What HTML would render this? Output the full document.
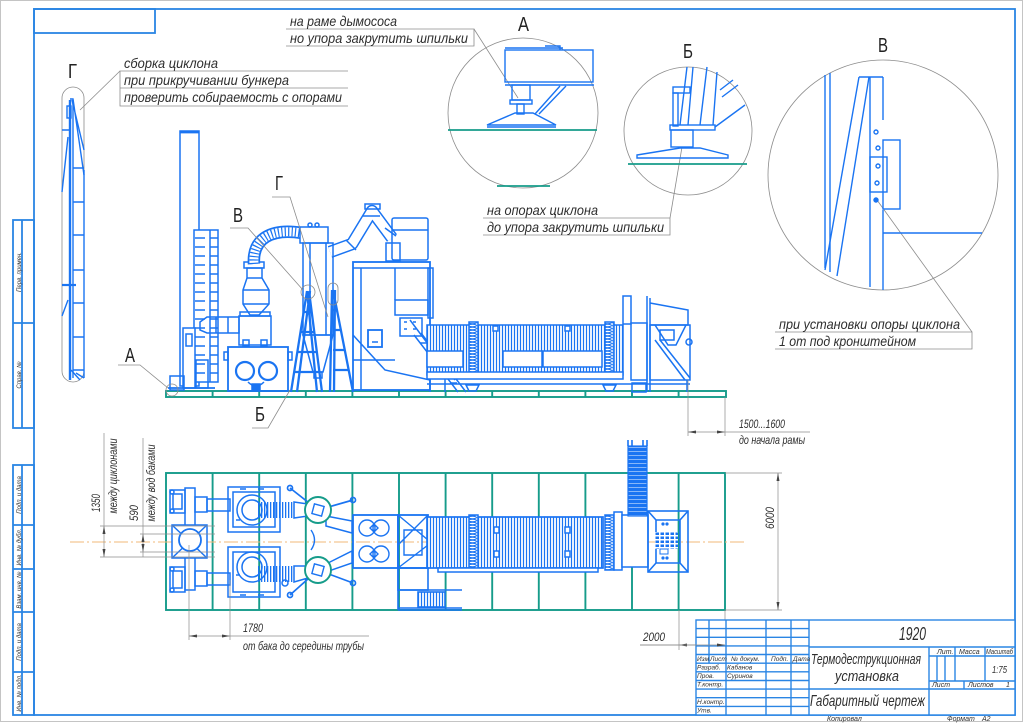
<!DOCTYPE html>
<html><head><meta charset="utf-8">
<style>
html,body{margin:0;padding:0;background:#fff;}
svg{display:block;}
.t{font-family:"Liberation Sans",sans-serif;font-style:italic;fill:#2e2e2e;}
.L{font-family:"Liberation Sans",sans-serif;fill:#222;}
</style></head><body>
<svg width="1024" height="724" viewBox="0 0 1024 724" xmlns="http://www.w3.org/2000/svg">
<defs>
<pattern id="vf" width="3" height="6" patternUnits="userSpaceOnUse"><rect width="3" height="6" fill="#fff"/><line x1="1.5" y1="0" x2="1.5" y2="6" stroke="#1a74f2" stroke-width="1.2"/></pattern>
<pattern id="hb" width="9" height="3" patternUnits="userSpaceOnUse"><rect width="9" height="3" fill="#fff"/><ellipse cx="4.5" cy="1.5" rx="4" ry="1.2" fill="none" stroke="#1a74f2" stroke-width="0.9"/></pattern>
<pattern id="hl" width="6" height="4" patternUnits="userSpaceOnUse"><rect width="6" height="4" fill="#1a74f2"/><line x1="0" y1="3.5" x2="6" y2="3.5" stroke="#cfe3ff" stroke-width="0.6"/></pattern>
<pattern id="grd" width="5" height="4" patternUnits="userSpaceOnUse"><rect width="5" height="4" fill="#fff"/><rect x="0.5" y="0.5" width="3.5" height="2.5" fill="#1a74f2"/></pattern>
</defs>

<!-- page border -->
<rect x="0.5" y="0.5" width="1022" height="721" fill="none" stroke="#c4c4c4" stroke-width="1"/>
<!-- frame -->
<g fill="none" stroke="#2a85e4" stroke-width="1.8">
<rect x="34" y="9" width="981" height="706"/>
<rect x="34" y="9" width="121" height="24"/>
<rect x="13" y="220" width="21" height="208"/>
<line x1="22" y1="220" x2="22" y2="428"/>
<line x1="13" y1="323" x2="34" y2="323"/>
<rect x="13" y="465" width="21" height="250"/>
<line x1="22" y1="465" x2="22" y2="715"/>
<line x1="13" y1="525" x2="34" y2="525"/>
<line x1="13" y1="569" x2="34" y2="569"/>
<line x1="13" y1="612" x2="34" y2="612"/>
<line x1="13" y1="672" x2="34" y2="672"/>
</g>
<g class="t" font-size="6">
<text transform="translate(21,272) rotate(-90)" text-anchor="middle">Перв. примен.</text>
<text transform="translate(21,375) rotate(-90)" text-anchor="middle">Справ. №</text>
<text transform="translate(21,495) rotate(-90)" text-anchor="middle">Подп. и дата</text>
<text transform="translate(21,547) rotate(-90)" text-anchor="middle">Инв. № дубл.</text>
<text transform="translate(21,590) rotate(-90)" text-anchor="middle">Взам. инв. №</text>
<text transform="translate(21,642) rotate(-90)" text-anchor="middle">Подп. и дата</text>
<text transform="translate(21,693) rotate(-90)" text-anchor="middle">Инв. № подл.</text>
</g>

<!-- ===== callouts top ===== -->
<g fill="none" stroke="#8c8c8c" stroke-width="0.8">
<path d="M286,29H474V46H286"/>
<line x1="474" y1="29" x2="518" y2="98"/>
<path d="M348,71H120V106H348M120,88H348"/>
<line x1="120" y1="71" x2="80" y2="110"/>
<path d="M483,218H670V235H483"/>
<line x1="670" y1="218" x2="682" y2="147"/>
<path d="M775,332H972V349H775"/>
<line x1="972" y1="332" x2="877" y2="200"/>
<circle cx="523" cy="113" r="75"/>
<circle cx="688" cy="131" r="64"/>
<circle cx="883" cy="175" r="115"/>
<rect x="62" y="87" width="22" height="295" rx="11"/>
</g>
<g class="t" font-size="14">
<text x="290" y="26" textLength="107" lengthAdjust="spacingAndGlyphs">на раме дымососа</text>
<text x="290" y="43" textLength="178" lengthAdjust="spacingAndGlyphs">но упора закрутить шпильки</text>
<text x="124" y="68" textLength="94" lengthAdjust="spacingAndGlyphs">сборка циклона</text>
<text x="124" y="85" textLength="165" lengthAdjust="spacingAndGlyphs">при прикручивании бункера</text>
<text x="124" y="102" textLength="218" lengthAdjust="spacingAndGlyphs">проверить собираемость с опорами</text>
<text x="487" y="215" textLength="111" lengthAdjust="spacingAndGlyphs">на опорах циклона</text>
<text x="487" y="232" textLength="177" lengthAdjust="spacingAndGlyphs">до упора закрутить шпильки</text>
<text x="779" y="329" textLength="181" lengthAdjust="spacingAndGlyphs">при установки опоры циклона</text>
<text x="779" y="346" textLength="137" lengthAdjust="spacingAndGlyphs">1 от под кронштейном</text>
</g>
<g class="L" font-size="20">
<text x="518" y="31" textLength="11" lengthAdjust="spacingAndGlyphs">А</text>
<text x="683" y="58" textLength="10" lengthAdjust="spacingAndGlyphs">Б</text>
<text x="878" y="52" textLength="10" lengthAdjust="spacingAndGlyphs">В</text>
<text x="68" y="78" textLength="9" lengthAdjust="spacingAndGlyphs">Г</text>
<text x="275" y="190" textLength="8" lengthAdjust="spacingAndGlyphs">Г</text>
<text x="233" y="222" textLength="10" lengthAdjust="spacingAndGlyphs">В</text>
<text x="125" y="362" textLength="10" lengthAdjust="spacingAndGlyphs">А</text>
<text x="255" y="421" textLength="10" lengthAdjust="spacingAndGlyphs">Б</text>
</g>

<!-- detail A -->
<g fill="none" stroke="#1a74f2" stroke-width="1.4">
<path d="M505,48H563M545,46H560V50"/>
<rect x="505" y="50" width="88" height="32"/>
<line x1="505" y1="85" x2="594" y2="85"/>
<rect x="512" y="85" width="18" height="15"/>
<rect x="510" y="100" width="22" height="4"/>
<rect x="517" y="104" width="7" height="10"/>
<path d="M487,125L515,113H533L556,125ZM487,127H556"/>
<path d="M535,114L560,86M539,114L566,86"/>
</g>
<g stroke="#169c8a" stroke-width="1.8"><line x1="448" y1="130" x2="597" y2="130"/><line x1="497" y1="186" x2="550" y2="186"/></g>
<!-- detail Б -->
<g fill="none" stroke="#1a74f2" stroke-width="1.4">
<rect x="673" y="87" width="17" height="6"/>
<rect x="673" y="93" width="5" height="33"/>
<path d="M687,67L680,125M693,67L688,125M707,67L700,125M717,72L713,125"/>
<rect x="670" y="125" width="45" height="5"/>
<path d="M715,127L745,105M720,90L733,80M722,97L738,85"/>
<rect x="671" y="130" width="22" height="17"/>
<path d="M637,155L680,148H700L728,155V158H637Z"/>
</g>
<g stroke="#169c8a" stroke-width="1.8"><line x1="628" y1="164" x2="747" y2="164"/></g>
<!-- detail В -->
<g fill="none" stroke="#1a74f2" stroke-width="1.4">
<path d="M825,75V268M830,73V272"/>
<path d="M859,77L825,270M869,77L837,276M859,77H883"/>
<path d="M870,77V287M883,77V120M883,210V290"/>
<rect x="883" y="140" width="17" height="69"/>
<rect x="870" y="157" width="17" height="35"/>
<line x1="883" y1="233" x2="982" y2="233"/>
<circle cx="876" cy="132" r="2"/><circle cx="878" cy="148" r="2"/><circle cx="878" cy="166" r="2"/><circle cx="877" cy="183" r="2"/><circle cx="876" cy="200" r="2" fill="#1a74f2"/>
</g>
<!-- detail Г left -->
<g fill="none" stroke="#1a74f2" stroke-width="1.4">
<line x1="70" y1="100" x2="70" y2="380" stroke-width="2.4"/>
<line x1="73" y1="100" x2="73" y2="378"/>
<line x1="84" y1="170" x2="84" y2="378"/>
<path d="M70,99H73L84,175M72,100L84,150"/>
<path d="M68,137L62,192M68,300L62,316M62,130H69"/>
<path d="M73,168H84M73,202H84M73,235H84M73,270H84M73,303H84M73,337H84M73,370H84"/>
<line x1="62" y1="285" x2="76" y2="285" stroke-width="2.2"/>
<rect x="67" y="106" width="4" height="12"/>
<path d="M71,370L80,380M76,373L84,378"/>
</g>

<!-- ===== SIDE VIEW ===== -->
<g fill="none" stroke="#169c8a" stroke-width="1.9">
<rect x="166" y="391" width="560" height="6"/>
<path d="M212.6,391V397M259.2,391V397M305.8,391V397M352.4,391V397M399,391V397M445.6,391V397M492.2,391V397M538.8,391V397M585.4,391V397M632,391V397M678.6,391V397"/>
</g>
<g fill="none" stroke="#1a74f2" stroke-width="1.5">
<!-- chimney -->
<rect x="180" y="131" width="19" height="255"/>
<line x1="180" y1="132" x2="199" y2="132" stroke-width="2.8"/>
<!-- rack -->
<rect x="194" y="230" width="24" height="152" fill="#fff"/>
<line x1="210" y1="230" x2="210" y2="382"/>
<path d="M195,238h10M195,247h10M195,256h10M195,265h10M195,274h10M195,283h10M195,292h10M195,301h10M195,310h10M195,319h10M195,328h10M195,337h10M195,346h10M195,355h10M195,364h10M195,373h10"/>
<path d="M210,238h8M210,247h8M210,256h8M210,265h8M210,274h8M210,283h8M210,292h8M210,301h8M210,310h8M210,319h8M210,328h8M210,337h8M210,346h8M210,355h8M210,364h8M210,373h8"/>
<!-- left small equipment -->
<rect x="183" y="328" width="12" height="60" fill="#fff"/>
<rect x="186" y="334" width="6" height="12"/>
<rect x="170" y="376" width="14" height="14"/>
<rect x="196" y="360" width="12" height="28"/>
<line x1="168" y1="388" x2="215" y2="388" stroke-width="1.8"/>
<!-- duct to tank -->
<path d="M200,322L207,317H239V333H207L200,330Z"/>
<path d="M216,317V333M228,317V333"/>
<!-- tank box -->
<rect x="240" y="312" width="30" height="4"/>
<rect x="239" y="316" width="32" height="29"/>
<rect x="243" y="340" width="6" height="6"/><rect x="261" y="340" width="6" height="6"/>
<!-- tank -->
<rect x="228" y="347" width="60" height="44" stroke-width="1.8"/>
<rect x="224" y="352" width="4" height="8"/><rect x="288" y="352" width="4" height="8"/>
<circle cx="245" cy="371" r="9" stroke-width="2.2"/>
<circle cx="268" cy="371" r="9" stroke-width="2.2"/>
<path d="M248,382Q256,390 264,382"/>
<rect x="252" y="384" width="8" height="6" fill="#1a74f2"/>
<!-- cyclone hopper -->
<rect x="244" y="262" width="20" height="6"/>
<path d="M247,268H262V278L269,290V304L259,315H250L243,304V290L247,278Z"/>
<path d="M243,290H269M243,304H269M247,278H262"/>
</g>
<!-- hose -->
<path d="M254,264C252,238 272,228 302,233" fill="none" stroke="#1a74f2" stroke-width="12.5"/>
<path d="M254,264C252,238 272,228 302,233" fill="none" stroke="#fff" stroke-width="9"/>
<path d="M254,264C252,238 272,228 302,233" fill="none" stroke="#1a74f2" stroke-width="9" stroke-dasharray="1.2 2.2"/>
<!-- right duct -->
<path d="M330,252L352,244L372,211L392,238" fill="none" stroke="#1a74f2" stroke-width="12.5" stroke-linejoin="round"/>
<path d="M330,252L352,244L372,211L392,238" fill="none" stroke="#fff" stroke-width="9.5" stroke-linejoin="round"/>
<g fill="none" stroke="#1a74f2" stroke-width="1.5">
<path d="M346,240L356,250M363,216L380,216M385,228L396,236"/>
<rect x="365" y="204" width="15" height="5"/>
<!-- cyclone column -->
<rect x="300" y="227" width="28" height="16" fill="#fff"/>
<circle cx="310" cy="225" r="2"/><circle cx="317" cy="225" r="2"/>
<rect x="303" y="243" width="30" height="92"/>
<path d="M310,243V335M326,243V335"/>
<path d="M303,335H333L323,372H313Z"/>
<rect x="314" y="372" width="8" height="6"/>
</g>
<!-- A-frames -->
<g fill="none" stroke="#1a74f2" stroke-width="2.3">
<path d="M307,291L291,392M310,291L297,392M307,291L317,392M309,291L322,392"/>
<path d="M304,312H311M301,332H314M298,352H316M295,372H319"/>
<path d="M332,290L330,392M335,290L334,392M333,290L353,392"/>
<path d="M333,310H337M333,330H341M333,350H345M333,370H349"/>
</g>
<!-- furnace -->
<g fill="none" stroke="#1a74f2" stroke-width="1.5">
<rect x="392" y="218" width="36" height="42" rx="2"/>
<line x1="392" y1="230" x2="428" y2="230"/>
<rect x="386" y="243" width="14" height="18"/>
<rect x="353" y="262" width="77" height="128" stroke-width="1.8"/>
<line x1="353" y1="268" x2="430" y2="268"/>
<line x1="361" y1="268" x2="361" y2="390"/>
<line x1="395" y1="268" x2="395" y2="300"/>
<rect x="428" y="268" width="5" height="50"/>
<rect x="368" y="330" width="14" height="17" stroke-width="1.8"/>
<line x1="372" y1="342" x2="378" y2="342"/>
<rect x="395" y="300" width="33" height="15"/>
<rect x="400" y="318" width="22" height="18"/>
<path d="M404,322h3M413,322h3M404,329h3M413,329h3"/>
<line x1="353" y1="360" x2="395" y2="360"/>
<path d="M353,335L385,370L430,380"/>
<!-- stairs -->
<path d="M414,335L458,392M421,333L466,392"/>
<path d="M420,343h7M426,351h7M432,359h7M438,367h7M444,375h7M450,383h7"/>
<path d="M430,325V392M445,350V392"/>
<path d="M410,320L455,380"/>
</g>
<!-- heat exchanger side -->
<rect x="427" y="325" width="196" height="50" fill="url(#vf)" stroke="#1a74f2" stroke-width="1.5"/>
<g fill="#fff" stroke="#1a74f2" stroke-width="1.5">
<rect x="427" y="351" width="36" height="16"/>
<rect x="503" y="351" width="39" height="16"/>
<rect x="543" y="351" width="59" height="16"/>
<rect x="469" y="322" width="9" height="55" fill="url(#hb)"/>
<rect x="605" y="322" width="9" height="55" fill="url(#hb)"/>
<rect x="427" y="372" width="196" height="7"/>
<rect x="493" y="326" width="5" height="5"/>
<rect x="565" y="326" width="5" height="5"/>
</g>
<g fill="none" stroke="#1a74f2" stroke-width="1.5">
<line x1="427" y1="384" x2="690" y2="384"/>
<path d="M466,385H479L476,391H469ZM603,385H616L613,391H606Z"/>
<rect x="632" y="383" width="14" height="9"/>
<!-- right equipment -->
<rect x="623" y="296" width="8" height="28"/>
<rect x="631" y="323" width="16" height="57"/>
<line x1="647" y1="296" x2="647" y2="392"/>
<line x1="650" y1="298" x2="650" y2="392"/>
<path d="M650,303L688,310V325H650"/>
<path d="M655,325L668,345H676L686,325"/>
<rect x="650" y="325" width="40" height="55"/>
<rect x="660" y="330" width="14" height="10"/>
<path d="M655,340L685,380M660,340L690,378"/>
<circle cx="689" cy="342" r="3"/>
<line x1="687" y1="380" x2="687" y2="392"/>
</g>
<!-- side view markers/leaders -->
<g fill="none" stroke="#8c8c8c" stroke-width="0.8">
<circle cx="308" cy="292" r="7"/>
<rect x="328" y="283" width="10" height="22" rx="5"/>
<circle cx="172" cy="390" r="6"/>
<path d="M272,197H290L328,317"/>
<path d="M230,228H248L303,290"/>
<path d="M252,428H268L290,390"/>
<path d="M118,365H140L168,388"/>
</g>

<!-- ===== PLAN VIEW ===== -->
<g fill="none" stroke="#169c8a" stroke-width="1.9">
<rect x="166" y="473" width="559" height="137"/>
<path d="M212.6,473V610M259.2,473V610M305.8,473V610M352.4,473V610M399,473V610M445.6,473V610M492.2,473V610M538.8,473V610M585.4,473V610M632,473V610M678.6,473V610"/>
</g>
<line x1="70" y1="542" x2="745" y2="542" stroke="#f0b878" stroke-width="0.9" stroke-dasharray="14 3 2 3"/>
<g fill="none" stroke="#1a74f2" stroke-width="1.5">
<!-- left cross -->
<rect x="185" y="488" width="10" height="102" fill="#fff"/>
<rect x="170" y="490" width="15" height="23"/><rect x="173" y="494" width="9" height="15"/>
<rect x="170" y="567" width="15" height="25"/><rect x="173" y="571" width="9" height="17"/>
<circle cx="172" cy="492" r="2"/><circle cx="172" cy="511" r="2"/><circle cx="172" cy="569" r="2"/><circle cx="172" cy="590" r="2"/>
<rect x="172" y="525" width="35" height="33" fill="#fff"/>
<path d="M172,525L207,558M207,525L172,558"/>
<circle cx="190" cy="540" r="11" fill="#fff" stroke-width="1.8"/>
<rect x="195" y="497" width="12" height="15"/><rect x="195" y="571" width="12" height="15"/>
<rect x="207" y="499" width="23" height="12"/><rect x="207" y="573" width="23" height="12"/>
<!-- tanks -->
<rect x="228" y="487" width="52" height="45"/>
<rect x="233" y="492" width="42" height="35"/>
<circle cx="252" cy="510" r="15"/><circle cx="252" cy="510" r="10"/>
<rect x="228" y="547" width="52" height="50"/>
<rect x="233" y="552" width="42" height="40"/>
<circle cx="252" cy="567" r="15"/><circle cx="252" cy="567" r="10"/>
<path d="M240,489h6M258,489h6M240,595h6M258,595h6M236,520h4M236,575h4"/>
<circle cx="285" cy="583" r="3"/>
</g>
<!-- plan hoses -->
<g>
<line x1="258" y1="510" x2="294" y2="510" stroke="#1a74f2" stroke-width="16" stroke-dasharray="1.3 1.7"/>
<line x1="258" y1="574" x2="294" y2="574" stroke="#1a74f2" stroke-width="16" stroke-dasharray="1.3 1.7"/>
</g>
<g fill="#fff" stroke="#1a74f2" stroke-width="1.5">
<path d="M294,502L308,504V516L294,518Z"/>
<path d="M294,566L308,566V578L294,582Z"/>
<!-- ducts to furnace -->
<path d="M326,516L352,521V533L326,526Z"/>
<path d="M326,564L352,551V563L326,572Z"/>
</g>
<g fill="none" stroke="#1a74f2" stroke-width="1.7">
<path d="M318,510L290,488M318,510L353,500M318,570L290,595M318,570L353,583"/>
<circle cx="290" cy="488" r="2.5"/><circle cx="353" cy="500" r="2.5"/><circle cx="290" cy="595" r="2.5"/><circle cx="353" cy="583" r="2.5"/>
</g>
<g stroke="#169c8a" stroke-width="1.9" fill="#fff">
<circle cx="318" cy="510" r="13"/>
<circle cx="318" cy="570" r="13"/>
</g>
<g fill="none" stroke="#1a74f2" stroke-width="1.4">
<rect x="313" y="505" width="10" height="10" transform="rotate(15 318 510)"/>
<rect x="313" y="565" width="10" height="10" transform="rotate(15 318 570)"/>
<path d="M311,530Q318,540 311,550"/>
<!-- furnace plan -->
<rect x="353" y="515" width="45" height="53" stroke-width="1.8"/>
<circle cx="367" cy="528" r="8"/><circle cx="381" cy="528" r="8"/>
<circle cx="367" cy="554" r="8"/><circle cx="381" cy="554" r="8"/>
<path d="M374,524l4,4l-4,4l-4,-4zM374,550l4,4l-4,4l-4,-4z"/>
<rect x="398" y="515" width="30" height="53" stroke-width="1.8"/>
<path d="M398,515L428,540M428,515L398,545M398,568L428,545M404,530H422V555H404Z"/>
</g>
<!-- heat exchanger plan -->
<rect x="427" y="517" width="176" height="51" fill="url(#vf)" stroke="#1a74f2" stroke-width="1.7"/>
<g fill="#fff" stroke="#1a74f2" stroke-width="1.5">
<rect x="469" y="515" width="9" height="55" fill="url(#hb)"/>
<rect x="605" y="515" width="9" height="55" fill="url(#hb)"/>
<rect x="494" y="527" width="5" height="6"/><rect x="494" y="551" width="5" height="6"/>
<rect x="565" y="527" width="5" height="6"/><rect x="565" y="551" width="5" height="6"/>
<rect x="438" y="568" width="160" height="4"/>
<rect x="614" y="512" width="8" height="58"/>
<rect x="622" y="515" width="26" height="52"/>
</g>
<rect x="628" y="446" width="19" height="70" fill="url(#hl)" stroke="#1a74f2" stroke-width="1.2"/>
<path d="M628,446V440M632,446V440M643,446V440M647,446V440" stroke="#1a74f2" stroke-width="1.6"/>
<g fill="none" stroke="#1a74f2" stroke-width="1.6">
<rect x="648" y="511" width="40" height="61"/>
<path d="M648,511L656,520H680L688,511M648,572L656,563H680L688,572M656,520V563M680,520V563"/>
<circle cx="663" cy="524" r="0.8"/><circle cx="667" cy="524" r="0.8"/><circle cx="663" cy="558" r="0.8"/><circle cx="667" cy="558" r="0.8"/>
</g>
<rect x="655" y="532" width="23" height="17" fill="url(#grd)"/>
<rect x="660" y="549" width="8" height="5" fill="none" stroke="#1a74f2"/>
<!-- lower stair in plan -->
<g fill="none" stroke="#1a74f2" stroke-width="1.6">
<rect x="398" y="568" width="30" height="22"/>
<path d="M398,590H462M398,608H462M398,610H462"/>
<rect x="418" y="592" width="27" height="15" fill="url(#vf)"/>
<line x1="398" y1="568" x2="398" y2="610"/>
</g>

<!-- ===== DIMENSIONS ===== -->
<g fill="none" stroke="#8c8c8c" stroke-width="0.7">
<line x1="104" y1="433" x2="104" y2="557"/>
<line x1="100" y1="526" x2="215" y2="526"/>
<line x1="100" y1="557" x2="215" y2="557"/>
<line x1="143" y1="438" x2="143" y2="557"/>
<line x1="140" y1="534" x2="215" y2="534"/>
<line x1="140" y1="552" x2="215" y2="552"/>
<line x1="189" y1="545" x2="189" y2="640"/>
<line x1="230" y1="580" x2="230" y2="640"/>
<line x1="189" y1="636" x2="369" y2="636"/>
<line x1="688" y1="380" x2="688" y2="436"/>
<line x1="725" y1="397" x2="725" y2="436"/>
<line x1="688" y1="432" x2="810" y2="432"/>
<line x1="725" y1="473" x2="782" y2="473"/>
<line x1="725" y1="610" x2="782" y2="610"/>
<line x1="778" y1="473" x2="778" y2="610"/>
<line x1="679" y1="610" x2="679" y2="650"/>
<line x1="725" y1="610" x2="725" y2="648"/>
<line x1="640" y1="645" x2="725" y2="645"/>
</g>
<g fill="#444">
<polygon points="104,526 102.5,534 105.5,534"/><polygon points="104,557 102.5,549 105.5,549"/>
<polygon points="143,534 141.5,542 144.5,542"/><polygon points="143,552 141.5,544 144.5,544"/>
<polygon points="189,636 197,634.5 197,637.5"/><polygon points="230,636 222,634.5 222,637.5"/>
<polygon points="688,432 696,430.5 696,433.5"/><polygon points="725,432 717,430.5 717,433.5"/>
<polygon points="778,473 776.5,481 779.5,481"/><polygon points="778,610 776.5,602 779.5,602"/>
<polygon points="679,645 687,643.5 687,646.5"/><polygon points="725,645 717,643.5 717,646.5"/>
</g>
<g class="t" font-size="12">
<text transform="translate(100,503) rotate(-90)" text-anchor="middle" textLength="18" lengthAdjust="spacingAndGlyphs">1350</text>
<text transform="translate(117,476) rotate(-90)" text-anchor="middle" textLength="75" lengthAdjust="spacingAndGlyphs">между циклонами</text>
<text transform="translate(138,513) rotate(-90)" text-anchor="middle" textLength="16" lengthAdjust="spacingAndGlyphs">590</text>
<text transform="translate(155,483) rotate(-90)" text-anchor="middle" textLength="77" lengthAdjust="spacingAndGlyphs">между вод баками</text>
<text transform="translate(774,518) rotate(-90)" text-anchor="middle" textLength="22" lengthAdjust="spacingAndGlyphs">6000</text>
<text x="243" y="632" textLength="20" lengthAdjust="spacingAndGlyphs">1780</text>
<text x="243" y="650" textLength="121" lengthAdjust="spacingAndGlyphs">от бака до середины трубы</text>
<text x="739" y="428" textLength="46" lengthAdjust="spacingAndGlyphs">1500...1600</text>
<text x="739" y="444" textLength="66" lengthAdjust="spacingAndGlyphs">до начала рамы</text>
<text x="643" y="641" textLength="22" lengthAdjust="spacingAndGlyphs">2000</text>
</g>

<!-- ===== TITLE BLOCK ===== -->
<g fill="none" stroke="#2a85e4" stroke-width="1.4">
<rect x="696" y="620" width="319" height="95" fill="#fff"/>
<path d="M709,620V663M726,620V715M766,620V715M791,620V715M809,620V715"/>
<path d="M696,628.6H809M696,637.3H809M696,645.9H809M696,654.5H809M696,663.2H809M696,671.8H809M696,680.5H809M696,689.1H809M696,697.7H809M696,706.4H809"/>
<path d="M809,647H1015M929,647V715M809,689H929M929,656H1015M929,681H1015M929,689H1015"/>
<path d="M955,647V681M985,647V681M937,656V681M945,656V681M964,681V689"/>
</g>
<line x1="640" y1="645" x2="725" y2="645" stroke="#8c8c8c" stroke-width="0.7"/>
<polygon points="725,645 717,643.5 717,646.5" fill="#444"/>
<g class="t">
<text x="899" y="640" font-size="18" textLength="27" lengthAdjust="spacingAndGlyphs">1920</text>
<text x="811" y="664" font-size="15" textLength="110" lengthAdjust="spacingAndGlyphs">Термодеструкционная</text>
<text x="835" y="681" font-size="15" textLength="64" lengthAdjust="spacingAndGlyphs">установка</text>
<text x="810" y="706" font-size="16" textLength="115" lengthAdjust="spacingAndGlyphs">Габаритный чертеж</text>
<text x="937" y="654" font-size="7">Лит.</text>
<text x="959" y="654" font-size="7">Масса</text>
<text x="986" y="654" font-size="7" textLength="27" lengthAdjust="spacingAndGlyphs">Масштаб</text>
<text x="992" y="673" font-size="10" textLength="15" lengthAdjust="spacingAndGlyphs">1:75</text>
<text x="932" y="687" font-size="7">Лист</text>
<text x="968" y="687" font-size="7">Листов</text>
<text x="1006" y="687" font-size="7">1</text>
<g font-size="6.5">
<text x="697" y="661">Изм</text>
<text x="710" y="661">Лист</text>
<text x="731" y="661">№ докум.</text>
<text x="771" y="661">Подп.</text>
<text x="793" y="661">Дата</text>
<text x="697" y="669.5">Разраб.</text>
<text x="727" y="669.5">Кабанов</text>
<text x="697" y="678">Пров.</text>
<text x="727" y="678">Суринов</text>
<text x="697" y="686.5">Т.контр.</text>
<text x="697" y="704">Н.контр.</text>
<text x="697" y="712.5">Утв.</text>
</g>
<text x="827" y="721" font-size="7">Копировал</text>
<text x="947" y="721" font-size="7">Формат</text>
<text x="982" y="721" font-size="7">A2</text>
</g>
</svg>
</body></html>
